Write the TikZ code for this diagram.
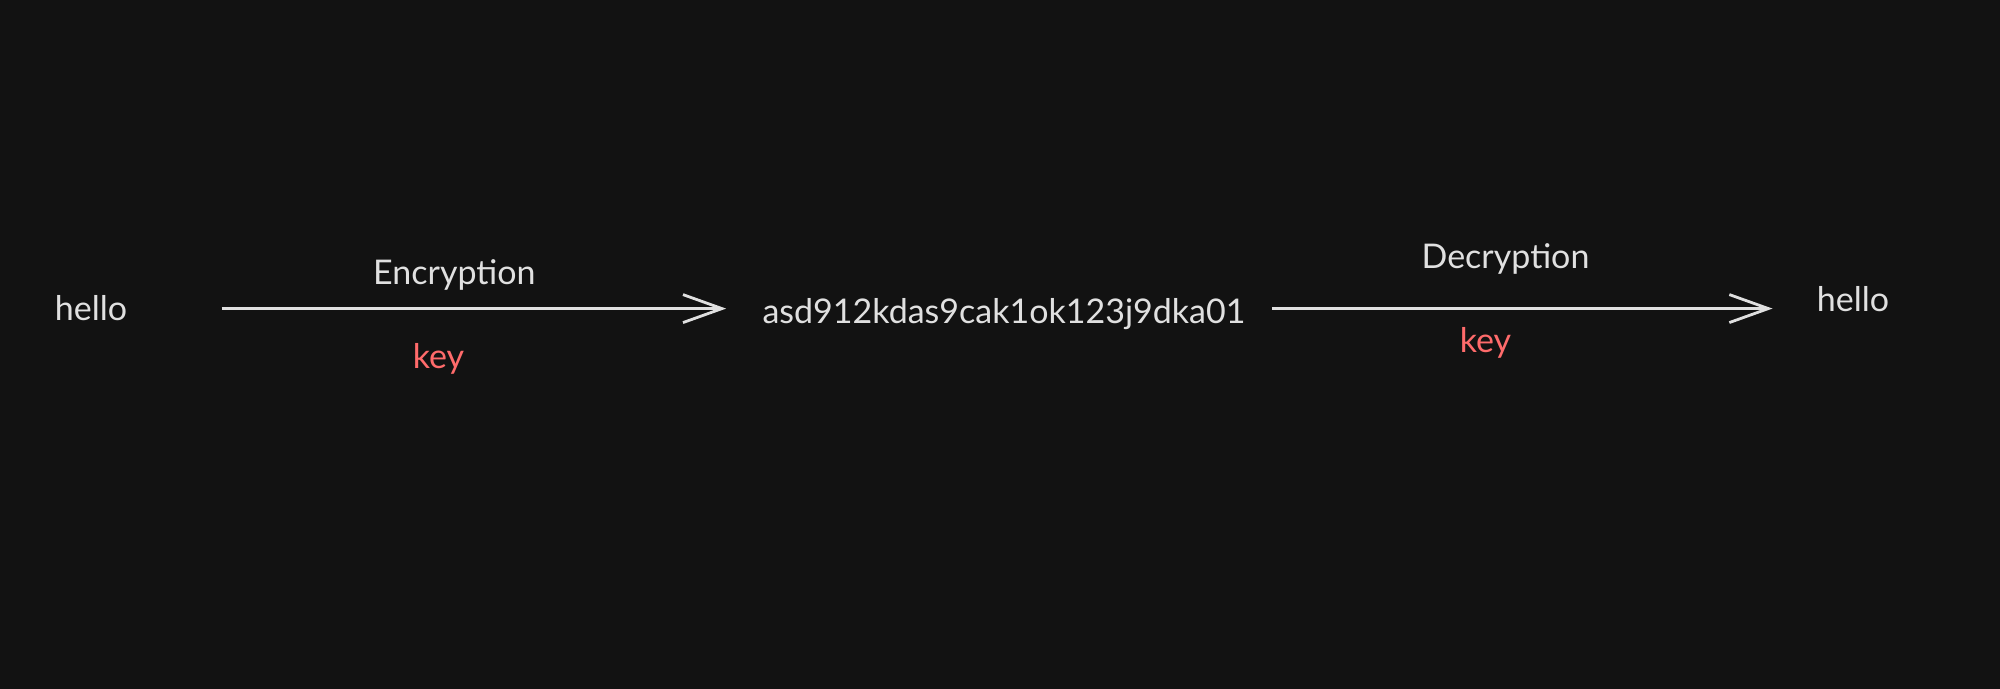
\documentclass[tikz,border=0pt]{standalone}
\usepackage{fontspec}
\setmainfont{Lato}
\usetikzlibrary{arrows.meta,positioning}
\definecolor{canvas}{HTML}{121212}
\definecolor{chalk}{HTML}{E0E0E0}
\definecolor{keyred}{HTML}{FF6B6B}

\begin{document}
\begin{tikzpicture}[x=0.5pt,y=-0.5pt,
  every node/.style={text=chalk,font=\fontsize{17}{20}\selectfont,inner sep=0pt},
  word/.style={anchor=base},
  keylabel/.style={text=keyred},
  arrow/.style={draw=chalk,line width=1.4pt,-{Straight Barb[length=19.5pt,width=14pt,line width=1.4pt]}}]
  \fill[canvas] (0,0) rectangle (2000,689);
  \useasboundingbox (0,0) rectangle (2000,689);
  \node[word] (plain) at (91,321) {hello};
  \node[word] (cipher) at (1004,323) {asd912kdas9cak1ok123j9dka01};
  \node[word] (decoded) at (1853,312) {hello};
  % encrypt
  \draw[arrow,shorten <=47pt,shorten >=18pt] (plain.east) -- (plain.east -| cipher.west)
    node[pos=.515,above=8.5pt] {Encryption}
    node[pos=.49,below=16.5pt,keylabel] {key};
  % decrypt
  \draw[arrow,shorten <=13pt,shorten >=22pt] ([yshift=2.5pt]cipher.east) -- ([yshift=2.5pt]cipher.east -| decoded.west)
    node[pos=.455,above=16.5pt] {Decryption}
    node[pos=.42,below=8.5pt,keylabel] {key};
\end{tikzpicture}
\end{document}
